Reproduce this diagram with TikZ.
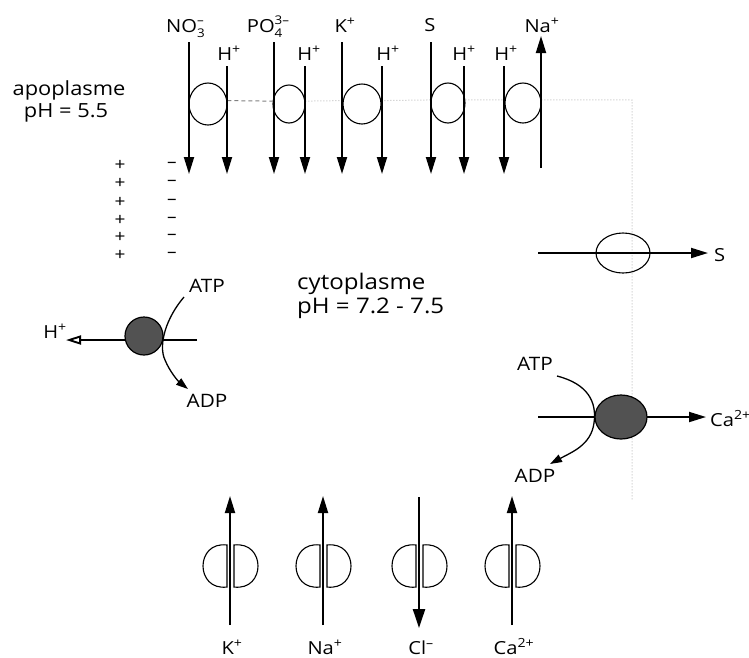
\documentclass[tikz,border=0pt]{standalone}
\usepackage{fontspec}
\setmainfont{Open Sans}[FakeStretch=1.12]
\usetikzlibrary{arrows.meta,shapes.geometric}
\newcommand{\stackion}[2]{\makebox[0pt][l]{\raisebox{-5pt}{\fontsize{12}{12}\selectfont #1}}\raisebox{8pt}{\fontsize{12}{12}\selectfont #2}}
\begin{document}
\begin{tikzpicture}[x=1pt,y=-1pt,
  ion/.style={font=\fontsize{18}{20}\selectfont, inner sep=0pt, anchor=base},
  nrg/.style={font=\fontsize{18.5}{20}\selectfont, inner sep=0pt, anchor=base},
  region/.style={font=\fontsize{19.5}{16}\selectfont, inner sep=0pt, anchor=base},
  cyto/.style={font=\fontsize{21.5}{24}\selectfont, inner sep=0pt, anchor=base west},
  chg/.style={font=\fontsize{17}{17}\selectfont, inner sep=0pt},
  flow/.style={line width=1.9pt, -{Triangle[length=17pt,width=10pt]}},
  carrier/.style={draw, ellipse, line width=1.1pt, inner sep=0pt},
  pump/.style={draw, ellipse, line width=1.2pt, fill=black!68, inner sep=0pt},
  memb/.style={draw=black!50, line width=1pt, dash pattern=on 4pt off 3pt},
  faint/.style={draw=black!25, line width=1pt, dotted},
  energy/.style={line width=1.3pt, -{Triangle[length=12pt,width=8pt]}},
  lobe/.style={draw, line width=1.1pt},
]
\useasboundingbox (0,0) rectangle (749,657);

% ---------- region labels ----------
\node[region] (apo1) at (69,95) {apoplasme};
\node[region] (apo2) at (66,117) {pH = 5.5};
\node[cyto] (cyt1) at (297,289) {cytoplasme};
\node[cyto] (cyt2) at (297,313) {pH = 7.2 - 7.5};

% ---------- top row: labels ----------
\node[ion] (lno3) at (185,32) {NO\stackion{3}{–}};
\node[ion] (lh1)  at (229,60) {H\textsuperscript{+}};
\node[ion] (lpo4) at (268,32) {PO\stackion{4}{3–}};
\node[ion] (lh2)  at (309,60) {H\textsuperscript{+}};
\node[ion] (lk)   at (345,32) {K\textsuperscript{+}};
\node[ion] (lh3)  at (388,60) {H\textsuperscript{+}};
\node[ion] (ls)   at (430,31) {S};
\node[ion] (lh4)  at (464,60) {H\textsuperscript{+}};
\node[ion] (lh5)  at (506,60) {H\textsuperscript{+}};
\node[ion] (lna)  at (542,32) {Na\textsuperscript{+}};

% ---------- top row: carriers ----------
\node[carrier, minimum width=38pt, minimum height=42pt] (c1) at (208,104) {};
\node[carrier, minimum width=32pt, minimum height=38pt] (c2) at (289,104) {};
\node[carrier, minimum width=38pt, minimum height=40pt] (c3) at (362,104) {};
\node[carrier, minimum width=34pt, minimum height=40pt] (c4) at (448,103) {};
\node[carrier, minimum width=36pt, minimum height=40pt] (c5) at (523,103) {};

% membrane traces
\coordinate (mc) at (632,100);
\coordinate (mb) at (632,500);
\draw[memb] (c1.10) -- (c2.170);
\draw[faint] (c2.10) -- (c3.170);
\draw[faint] (c3.10) -- (c4.170);
\draw[faint] (c4.10) -- (c5.170);
\draw[faint] (c5.10) -- (mc) -- (mb);

% ---------- top row: arrows ----------
\coordinate (a1s) at (189,42);  \coordinate (a1e) at (189,174);
\coordinate (a2s) at (227,66);  \coordinate (a2e) at (227,174);
\coordinate (a3s) at (274,42);  \coordinate (a3e) at (274,174);
\coordinate (a4s) at (305,66);  \coordinate (a4e) at (305,174);
\coordinate (a5s) at (342,42);  \coordinate (a5e) at (342,174);
\coordinate (a6s) at (382,66);  \coordinate (a6e) at (382,174);
\coordinate (a7s) at (431,42);  \coordinate (a7e) at (431,174);
\coordinate (a8s) at (464,66);  \coordinate (a8e) at (464,174);
\coordinate (a9s) at (504,66);  \coordinate (a9e) at (504,174);
\coordinate (a10s) at (541,168); \coordinate (a10e) at (541,36);
\foreach \i in {1,...,10} \draw[flow] (a\i s) -- (a\i e);

% ---------- charges ----------
\foreach \y [count=\k] in {165,183,202,220,237,255} {
  \node[chg] (plus\k) at (120,\y) {+};
  \node[chg] (minus\k) at (172,\y) {–};
}

% ---------- left H+ pump ----------
\coordinate (lps) at (197,340);
\coordinate (lpe) at (66,340);
\draw[line width=1.9pt, -{Triangle[open, length=15pt, width=9pt]}] (lps) -- (lpe);
\node[pump, minimum width=38pt, minimum height=38pt] (lp) at (144,336) {};
\node[ion] (lhp) at (55,338) {H\textsuperscript{+}};
\node[nrg] (latp) at (207,292) {ATP};
\node[nrg] (ladp) at (207,407) {ADP};
\coordinate (lcs) at (184,297);
\coordinate (lce) at (188,389);
\draw[energy] (lcs) .. controls (166,318) and (158,345) .. (165,360)
  .. controls (170,372) and (178,381) .. (lce);

% ---------- S uniport ----------
\coordinate (ss) at (538,253);
\coordinate (se) at (708,253);
\node[carrier, minimum width=54pt, minimum height=40pt] (sc) at (623,253) {};
\draw[flow] (ss) -- (se);
\node[ion, anchor=base west] (lsr) at (714,261) {S};

% ---------- right Ca2+ pump ----------
\coordinate (rps) at (538,417);
\coordinate (rpe) at (706,417);
\draw[flow] (rps) -- (rpe);
\node[pump, minimum width=52pt, minimum height=44pt] (rp) at (621,417) {};
\node[ion, anchor=base west] (lca) at (710,426) {Ca\textsuperscript{2+}};
\node[nrg] (ratp) at (535,370) {ATP};
\node[nrg] (radp) at (535,482) {ADP};
\coordinate (rcs) at (557,376);
\coordinate (rce) at (550,464);
\draw[energy] (rcs) .. controls (588,384) and (597,402) .. (594,423)
  .. controls (591,445) and (572,452) .. (rce);

% ---------- bottom channels ----------
\foreach \x/\nm in {230/k, 323/na, 419/cl, 512/ca} {
  \draw[lobe] (\x-3,545) .. controls (\x-35,541) and (\x-35,591) .. (\x-3,587) -- cycle;
  \draw[lobe] (\x+4,545) .. controls (\x+36,541) and (\x+36,591) .. (\x+4,587) -- cycle;
}
\coordinate (b1s) at (230,625); \coordinate (b1e) at (230,496);
\coordinate (b2s) at (323,625); \coordinate (b2e) at (323,496);
\coordinate (b3s) at (419,497); \coordinate (b3e) at (419,628);
\coordinate (b4s) at (512,625); \coordinate (b4e) at (512,496);
\draw[flow] (b1s) -- (b1e);
\draw[flow] (b2s) -- (b2e);
\draw[line width=2.4pt, -{Triangle[length=19pt,width=12pt]}] (b3s) -- (b3e);
\draw[flow] (b4s) -- (b4e);

\node[ion] (lbk)  at (232,654) {K\textsuperscript{+}};
\node[ion] (lbna) at (325,654) {Na\textsuperscript{+}};
\node[ion] (lbcl) at (421,654) {Cl\textsuperscript{–}};
\node[ion] (lbca) at (514,654) {Ca\textsuperscript{2+}};
\end{tikzpicture}
\end{document}
